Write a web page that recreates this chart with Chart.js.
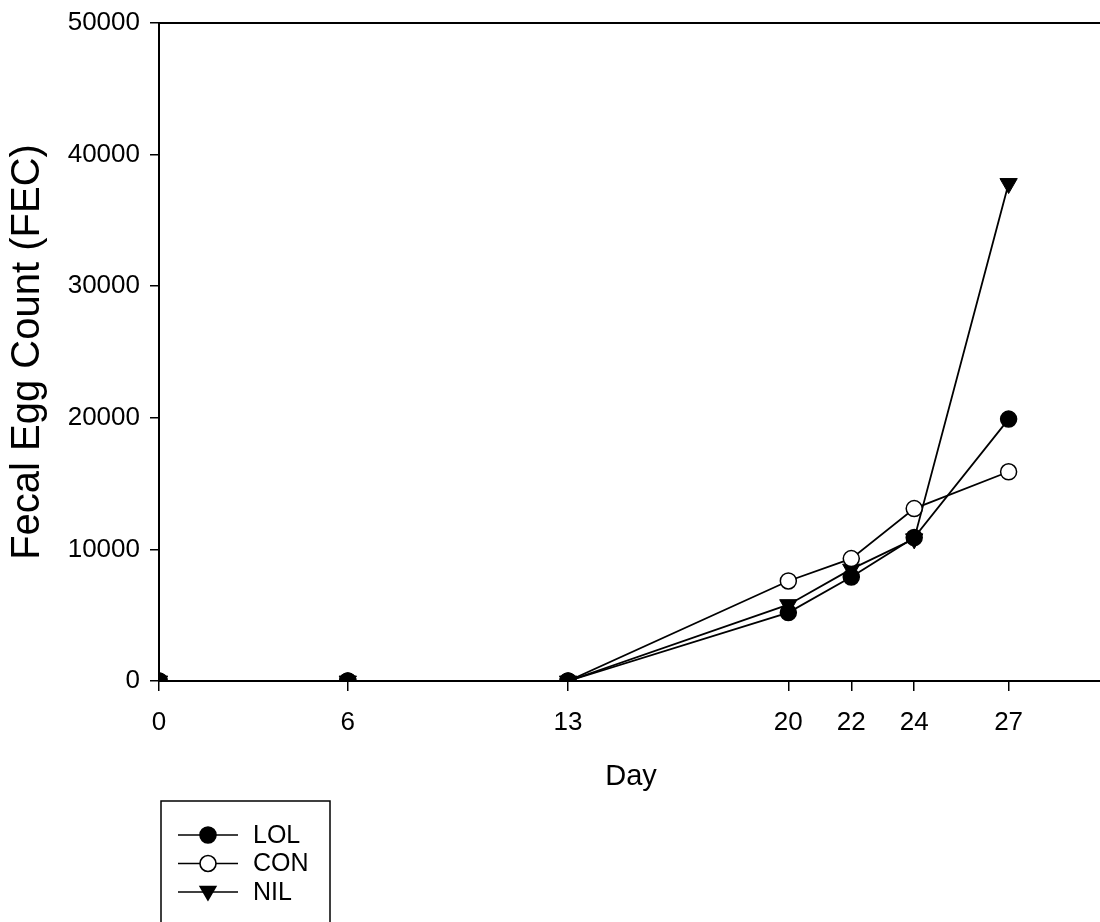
<!DOCTYPE html>
<html>
<head>
<meta charset="utf-8">
<script src="https://cdn.jsdelivr.net/npm/chart.js@4/dist/chart.umd.min.js"></script>
<style>
  html, body { margin: 0; padding: 0; background: #fff; overflow: hidden; }
  canvas { display: block; }
</style>
</head>
<body>
<canvas id="fec" width="1114" height="922"></canvas>
<script>
// data
const days = [0, 6, 13, 20, 22, 24, 27];
const lol = [0, 0, 0, 5200, 7900, 10900, 19900];
const con = [0, 0, 0, 7600, 9300, 13100, 15900];
const nil = [0, 0, 0, 5800, 8500, 10800, 37800];
const yTicks = [0, 10000, 20000, 30000, 40000, 50000];
const seriesNames = ["LOL", "CON", "NIL"];

const FONT = "'Liberation Sans', Arial, sans-serif";
const NARROW = "'Liberation Sans Narrow', 'Arial Narrow', 'Liberation Sans', sans-serif";

const toPoints = (vals) => days.map((d, i) => ({ x: d, y: vals[i] }));

// top edge of the frame (the right edge is off the page)
const framePlugin = {
  id: "frame",
  afterDraw(chart) {
    const { ctx, chartArea: a } = chart;
    ctx.save();
    ctx.strokeStyle = "#000";
    ctx.lineWidth = 2;
    ctx.beginPath();
    ctx.moveTo(a.left, a.top);
    ctx.lineTo(a.right, a.top);
    ctx.stroke();
    ctx.restore();
  }
};

// legend box: short line with the marker through it, like the original
const boxLegend = {
  id: "boxLegend",
  afterDraw(chart) {
    const { ctx } = chart;
    ctx.save();
    ctx.strokeStyle = "#000";
    ctx.lineWidth = 1.5;
    ctx.strokeRect(161, 801, 169, 140);
    chart.data.datasets.forEach((ds, i) => {
      const y = 835 + i * 28.5;
      const tri = ds.pointStyle === "triangle";
      ctx.lineWidth = 1.6;
      ctx.beginPath();
      ctx.moveTo(178, y);
      ctx.lineTo(238, y);
      ctx.stroke();
      ctx.fillStyle = ds.pointBackgroundColor;
      ctx.strokeStyle = "#000";
      Chart.helpers.drawPoint(ctx, {
        pointStyle: ds.pointStyle,
        rotation: ds.pointRotation || 0,
        radius: tri ? 9 : 8,
        borderWidth: 1.5
      }, 208, tri ? y - 1 : y);
      ctx.fillStyle = "#000";
      ctx.font = "25px " + FONT;
      ctx.textBaseline = "middle";
      ctx.fillText(ds.label, 253, y + 1);
    });
    ctx.restore();
  }
};

new Chart(document.getElementById("fec"), {
  type: "line",
  data: {
    datasets: [
      {
        label: seriesNames[0],
        data: toPoints(lol),
        borderColor: "#000",
        borderWidth: 1.8,
        pointStyle: "circle",
        pointRadius: 8,
        pointBackgroundColor: "#000",
        pointBorderColor: "#000",
        pointBorderWidth: 1.5
      },
      {
        label: seriesNames[1],
        data: toPoints(con),
        borderColor: "#000",
        borderWidth: 1.8,
        pointStyle: "circle",
        pointRadius: 8,
        pointBackgroundColor: "#fff",
        pointBorderColor: "#000",
        pointBorderWidth: 1.5
      },
      {
        label: seriesNames[2],
        data: toPoints(nil),
        borderColor: "#000",
        borderWidth: 1.8,
        pointStyle: "triangle",
        pointRotation: 180,
        pointRadius: 10,
        pointBackgroundColor: "#000",
        pointBorderColor: "#000",
        pointBorderWidth: 1
      }
    ]
  },
  options: {
    responsive: false,
    animation: false,
    layout: { padding: { top: 23, right: 0, left: 0, bottom: 0 } },
    plugins: {
      legend: { display: false },
      tooltip: { enabled: false }
    },
    elements: { line: { tension: 0 } },
    scales: {
      x: {
        type: "linear",
        min: 0,
        max: 30,
        afterBuildTicks: (scale) => {
          scale.ticks = days.map((v) => ({ value: v }));
        },
        afterFit: (scale) => {
          scale.height = 922 - 681;
          scale.paddingLeft = 0;
          scale.paddingRight = 0;
        },
        grid: {
          display: true,
          drawOnChartArea: false,
          drawTicks: true,
          tickLength: 10,
          color: "#000",
          lineWidth: 1.5
        },
        border: { display: true, color: "#000", width: 2 },
        ticks: {
          color: "#000",
          padding: 16,
          maxRotation: 0,
          font: { family: NARROW, size: 26 }
        },
        title: {
          display: true,
          text: "Day",
          color: "#000",
          font: { family: NARROW, size: 29 },
          padding: { top: 0, bottom: 128 }
        }
      },
      y: {
        type: "linear",
        min: 0,
        max: 50000,
        afterBuildTicks: (scale) => {
          scale.ticks = yTicks.map((v) => ({ value: v }));
        },
        afterFit: (scale) => {
          scale.width = 159;
          scale.paddingTop = 0;
          scale.paddingBottom = 0;
        },
        grid: {
          display: true,
          drawOnChartArea: false,
          drawTicks: true,
          tickLength: 9,
          color: "#000",
          lineWidth: 1.5
        },
        border: { display: true, color: "#000", width: 2 },
        ticks: {
          color: "#000",
          padding: 10,
          font: { family: FONT, size: 26 },
          callback: (v) => String(v)
        },
        title: {
          display: true,
          text: "Fecal Egg Count (FEC)",
          color: "#000",
          font: { family: FONT, size: 40 },
          padding: { top: 4, bottom: 0 }
        }
      }
    }
  },
  plugins: [framePlugin, boxLegend]
});
</script>
</body>
</html>
